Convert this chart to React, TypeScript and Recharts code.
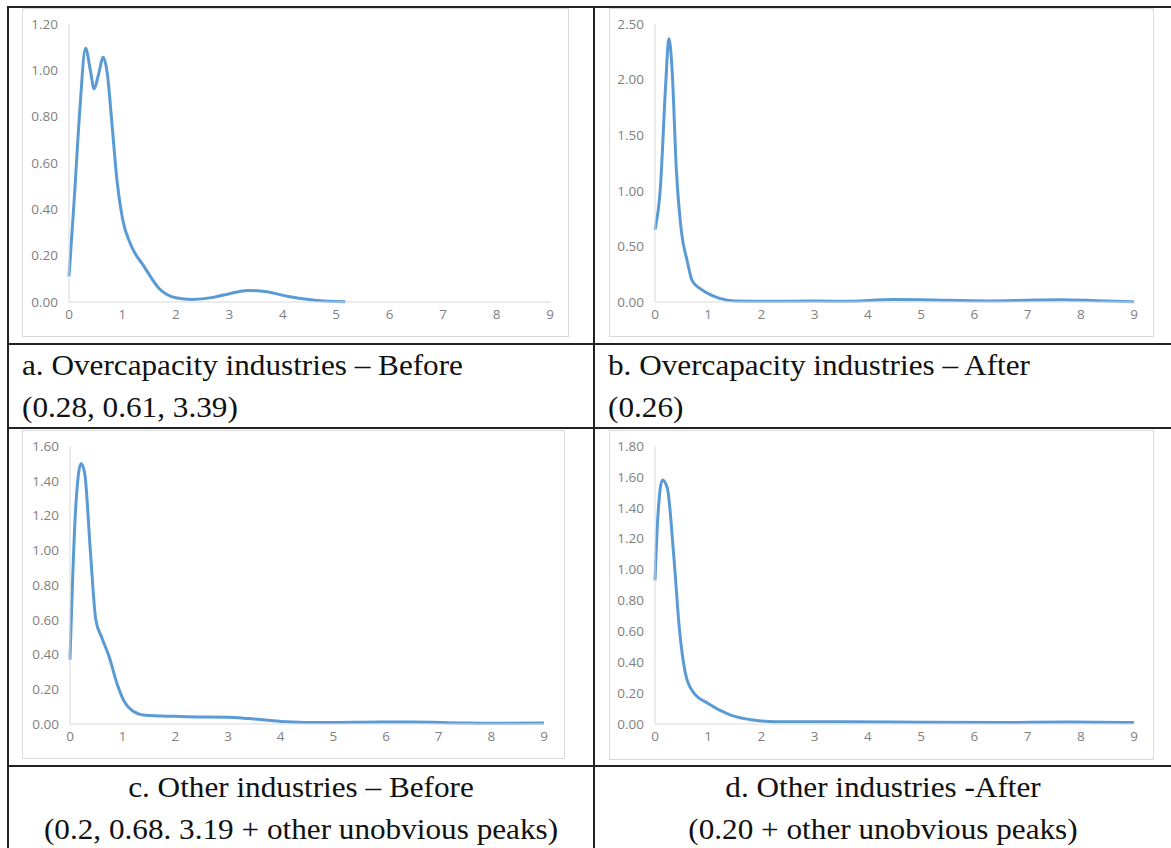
import { LineChart, Line, XAxis, YAxis } from 'recharts'

// x ticks shared by all four panels
const xTicks = [0, 1, 2, 3, 4, 5, 6, 7, 8, 9]

// a. Overcapacity industries – Before
const xsA = [0, 0.1, 0.2, 0.31, 0.4, 0.47, 0.55, 0.64, 0.72, 0.8, 0.9, 1.0, 1.15, 1.4, 1.7, 2.0, 2.3, 2.7, 3.0, 3.35, 3.7, 4.1, 4.6, 5.17]
const ysA = [0.11, 0.45, 0.82, 1.095, 1.0, 0.92, 0.98, 1.056, 0.98, 0.78, 0.52, 0.36, 0.25, 0.155, 0.055, 0.018, 0.011, 0.02, 0.036, 0.05, 0.044, 0.024, 0.008, 0.001]
const yTicksA = [0, 0.2, 0.4, 0.6, 0.8, 1.0, 1.2]

// b. Overcapacity industries – After
const xsB = [0, 0.1, 0.2, 0.26, 0.32, 0.4, 0.5, 0.6, 0.7, 0.85, 1.0, 1.2, 1.5, 2.0, 3.0, 3.5, 4.5, 5.5, 6.3, 7.0, 7.6, 8.3, 9.0]
const ysB = [0.65, 1.02, 1.95, 2.37, 2.1, 1.2, 0.62, 0.38, 0.19, 0.12, 0.075, 0.035, 0.01, 0.006, 0.008, 0.006, 0.022, 0.016, 0.01, 0.016, 0.02, 0.012, 0.002]
const yTicksB = [0, 0.5, 1.0, 1.5, 2.0, 2.5]

// c. Other industries – Before
const xsC = [0, 0.1, 0.21, 0.28, 0.39, 0.49, 0.6, 0.74, 0.89, 1.03, 1.2, 1.43, 2.0, 2.5, 3.0, 3.4, 4.0, 4.9, 5.9, 6.5, 7.4, 8.0, 9.0]
const ysC = [0.37, 1.2, 1.5, 1.44, 0.98, 0.6, 0.5, 0.39, 0.235, 0.13, 0.073, 0.05, 0.044, 0.04, 0.039, 0.031, 0.015, 0.008, 0.011, 0.011, 0.006, 0.004, 0.006]
const yTicksC = [0, 0.2, 0.4, 0.6, 0.8, 1.0, 1.2, 1.4, 1.6]

// d. Other industries -After
const xsD = [0, 0.05, 0.14, 0.23, 0.35, 0.46, 0.57, 0.71, 0.99, 1.42, 1.84, 2.27, 3.5, 5.0, 6.4, 7.8, 9.0]
const ysD = [0.93, 1.32, 1.58, 1.53, 1.1, 0.61, 0.33, 0.21, 0.134, 0.058, 0.026, 0.015, 0.015, 0.011, 0.009, 0.013, 0.009]
const yTicksD = [0, 0.2, 0.4, 0.6, 0.8, 1.0, 1.2, 1.4, 1.6, 1.8]

const captions = [
  ['a. Overcapacity industries – Before', '(0.28, 0.61, 3.39)'],
  ['b. Overcapacity industries – After', '(0.26)'],
  ['c. Other industries – Before', '(0.2, 0.68. 3.19 + other unobvious peaks)'],
  ['d. Other industries -After', '(0.20 + other unobvious peaks)'],
]

const tickStyle = { fontSize: 13.5, fill: '#7f7f7f', fontFamily: '"Open Sans", Lato, sans-serif' }
const axisGray = '#d9d9d9'

type Box = { x: number; y: number; w: number; h: number }
type Plot = { left: number; right: number; top: number; bottom: number }

function Panel({ frame, plot, xs, ys, yTicks }: { frame: Box; plot: Plot; xs: number[]; ys: number[]; yTicks: number[] }) {
  const data = xs.map((x, i) => ({ x, y: ys[i] }))
  const xH = 25
  const yW = plot.left - frame.x
  const margin = {
    top: plot.top - frame.y,
    right: frame.x + frame.w - plot.right,
    bottom: frame.y + frame.h - plot.bottom - xH,
    left: 0,
  }
  return (
    <div
      style={{
        position: 'absolute',
        left: frame.x,
        top: frame.y,
        width: frame.w,
        height: frame.h,
        border: `1px solid ${axisGray}`,
        boxSizing: 'border-box',
        background: '#fff',
      }}
    >
      <div style={{ position: 'absolute', left: -1, top: -1 }}>
        <LineChart width={frame.w} height={frame.h} data={data} margin={margin}>
          <XAxis
            dataKey="x"
            type="number"
            domain={[0, 9]}
            ticks={xTicks}
            interval={0}
            height={xH}
            tick={tickStyle}
            tickLine={false}
            tickMargin={1}
            stroke={axisGray}
          />
          <YAxis
            type="number"
            domain={[yTicks[0], yTicks[yTicks.length - 1]]}
            ticks={yTicks}
            interval={0}
            width={yW}
            tick={tickStyle}
            tickLine={false}
            tickMargin={5}
            tickFormatter={(v: number) => v.toFixed(2)}
            stroke={axisGray}
          />
          <Line
            type="monotone"
            dataKey="y"
            stroke="#5B9BD5"
            strokeWidth={3}
            dot={false}
            isAnimationActive={false}
          />
        </LineChart>
      </div>
    </div>
  )
}

const serif = '"Liberation Serif", "Times New Roman", serif'

function Caption({ x, y, w, lines, center }: { x: number; y: number; w: number; lines: string[]; center: boolean }) {
  return (
    <div
      style={{
        position: 'absolute',
        left: x,
        top: y,
        width: w,
        fontFamily: serif,
        fontSize: 30,
        lineHeight: '42px',
        color: '#111',
        textAlign: center ? 'center' : 'left',
        whiteSpace: 'nowrap',
        transform: 'scaleX(1.04)',
        transformOrigin: center ? 'center' : 'left',
      }}
    >
      {lines.map((l, i) => (
        <div key={i}>{l}</div>
      ))}
    </div>
  )
}

const line = '#222'

export default function App() {
  return (
    <div style={{ position: 'absolute', left: 0, top: 0, width: 1171, height: 848, background: '#fff', overflow: 'hidden' }}>
      {/* table rules */}
      <div style={{ position: 'absolute', left: 7, top: 6, width: 1164, height: 2, background: line }} />
      <div style={{ position: 'absolute', left: 7, top: 343, width: 1164, height: 2, background: line }} />
      <div style={{ position: 'absolute', left: 7, top: 427, width: 1164, height: 2, background: line }} />
      <div style={{ position: 'absolute', left: 7, top: 765, width: 1164, height: 2, background: line }} />
      <div style={{ position: 'absolute', left: 7, top: 6, width: 2, height: 842, background: line }} />
      <div style={{ position: 'absolute', left: 593, top: 6, width: 2, height: 842, background: line }} />

      <Panel frame={{ x: 22, y: 8, w: 547, h: 329 }} plot={{ left: 69, right: 550, top: 24, bottom: 302 }} xs={xsA} ys={ysA} yTicks={yTicksA} />
      <Panel frame={{ x: 609, y: 8, w: 545, h: 329 }} plot={{ left: 655, right: 1134, top: 24, bottom: 302 }} xs={xsB} ys={ysB} yTicks={yTicksB} />
      <Panel frame={{ x: 22, y: 430, w: 543, h: 329 }} plot={{ left: 70, right: 544, top: 446, bottom: 724 }} xs={xsC} ys={ysC} yTicks={yTicksC} />
      <Panel frame={{ x: 609, y: 430, w: 545, h: 330 }} plot={{ left: 655, right: 1134, top: 446, bottom: 724 }} xs={xsD} ys={ysD} yTicks={yTicksD} />

      <Caption x={22} y={344} w={560} lines={captions[0]} center={false} />
      <Caption x={608} y={344} w={560} lines={captions[1]} center={false} />
      <Caption x={9} y={766} w={584} lines={captions[2]} center={true} />
      <Caption x={595} y={766} w={576} lines={captions[3]} center={true} />
    </div>
  )
}
